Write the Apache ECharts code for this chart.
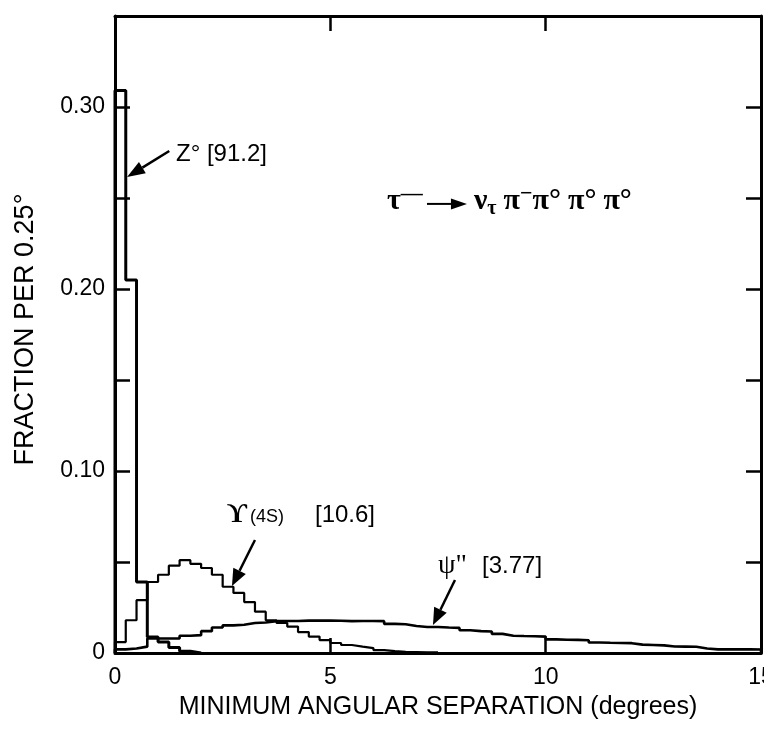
<!DOCTYPE html>
<html><head><meta charset="utf-8">
<script src="https://cdn.jsdelivr.net/npm/echarts@6/dist/echarts.min.js"></script>
<style>html,body{margin:0;padding:0;background:#fff}#c{width:764px;height:731px}</style>
</head><body><div id="c"></div>
<script>
// ---- data (fraction per 0.25 degree bin, bins start at 0) ----
const BIN_WIDTH = 0.25;
const xTickValues = [0, 5, 10, 15];
const yTickLabels = ['0', '0.10', '0.20', '0.30'];
const zValues = [0.309, 0.205, 0.039, 0.0088, 0.006, 0.003, 0.001, 0];
const upsilonValues = [
  0.006, 0.018, 0.029, 0.039, 0.043, 0.048, 0.051, 0.049, 0.0467, 0.043,
  0.0364, 0.033, 0.028, 0.0227, 0.018, 0.0165, 0.0145, 0.0115, 0.009, 0.0071,
  0.0055, 0.0044, 0.0035, 0.0027, 0.0016, 0.001, 0.0006, 0.0005, 0.0004, 0.0003
];
const psiValues = [
  0.002, 0.0025, 0.0035, 0.008, 0.008, 0.008, 0.0095, 0.0098, 0.012, 0.014,
  0.0152, 0.0155, 0.0165, 0.0168, 0.0175, 0.0176, 0.0176, 0.0178, 0.0178, 0.0178,
  0.0177, 0.0175, 0.0176, 0.0176, 0.0175, 0.016, 0.0158, 0.0148, 0.0143, 0.0143,
  0.014, 0.0138, 0.0125, 0.012, 0.0118, 0.0105, 0.0095, 0.0093, 0.0092, 0.009,
  0.0075, 0.0073, 0.0072, 0.007, 0.0058, 0.0056, 0.0055, 0.0054, 0.0046, 0.0044,
  0.0042, 0.0036, 0.0035, 0.0034, 0.0025, 0.002, 0.002, 0.002, 0.002, 0.0019
];

function toSteps(vals) {
  const pts = [[0, 0]];
  vals.forEach((v, i) => pts.push([i * BIN_WIDTH, v]));
  pts.push([vals.length * BIN_WIDTH, 0]);
  return pts;
}

const SANS = '"Liberation Sans", Arial, Helvetica, sans-serif';
const SERIF = '"Liberation Serif", "DejaVu Serif", "Times New Roman", serif';

const chart = echarts.init(document.getElementById('c'), null, {renderer: 'canvas'});

const tickStyle = {inside: true, length: 15, lineStyle: {color: '#000', width: 2.5}};
const lineAx = {show: true, onZero: false, lineStyle: {color: '#000', width: 3}};

function yLabel(v) {
  const r = Math.round(v * 100);
  if (Math.abs(v * 100 - r) > 1e-6) return '';
  if (r === 0) return yTickLabels[0];
  if (r % 10 === 0) return yTickLabels[r / 10] || '';
  return '';
}

const option = {
  animation: false,
  backgroundColor: '#fff',
  grid: {left: 115, right: 3, top: 16, bottom: 78, containLabel: false, outerBoundsMode: 'none'},
  xAxis: [{
    type: 'value', min: 0, max: 15, interval: 5, position: 'bottom',
    axisLine: lineAx, axisTick: tickStyle, splitLine: {show: false},
    axisLabel: {color: '#000', fontSize: 23, fontFamily: SANS, margin: 13, hideOverlap: false,
      formatter: v => xTickValues.indexOf(v) >= 0 ? String(v) : ''},
    name: 'MINIMUM ANGULAR SEPARATION (degrees)', nameLocation: 'middle', nameGap: 42,
    nameTextStyle: {color: '#000', fontSize: 25, fontFamily: SANS}
  }, {
    type: 'value', min: 0, max: 15, interval: 5, position: 'top',
    axisLine: lineAx, axisTick: tickStyle, splitLine: {show: false}, axisLabel: {show: false}
  }],
  yAxis: [{
    type: 'value', min: 0, max: 0.35, interval: 0.05, position: 'left',
    axisLine: lineAx, axisTick: tickStyle, splitLine: {show: false},
    axisLabel: {color: '#000', fontSize: 23, fontFamily: SANS, margin: 10, formatter: yLabel},
    name: 'FRACTION PER 0.25°', nameLocation: 'middle', nameGap: 76, nameRotate: 90,
    nameTextStyle: {color: '#000', fontSize: 27, fontFamily: SANS, padding: [0, 0, 0, 10]}
  }, {
    type: 'value', min: 0, max: 0.35, interval: 0.05, position: 'right',
    axisLine: lineAx, axisTick: tickStyle, splitLine: {show: false}, axisLabel: {show: false}
  }],
  series: [
    {name: 'Z', type: 'line', step: 'end', data: toSteps(zValues), symbol: 'none',
      lineStyle: {color: '#000', width: 3}, z: 3},
    {name: 'Upsilon', type: 'line', step: 'end', data: toSteps(upsilonValues), symbol: 'none',
      lineStyle: {color: '#000', width: 2.2}, z: 2},
    {name: 'Psi', type: 'line', step: 'end', data: toSteps(psiValues), symbol: 'none',
      lineStyle: {color: '#000', width: 2.6}, z: 2}
  ]
};
chart.setOption(option);

// ---- annotations anchored in data coordinates ----
function P(x, y) { return chart.convertToPixel({gridIndex: 0}, [x, y]); }
function arrow(tail, tip, headLen, headW, lw) {
  const dx = tip[0] - tail[0], dy = tip[1] - tail[1];
  const L = Math.hypot(dx, dy), ux = dx / L, uy = dy / L;
  const bx = tip[0] - ux * headLen, by = tip[1] - uy * headLen;
  const nx = -uy, ny = ux;
  return [
    {type: 'line', shape: {x1: tail[0], y1: tail[1], x2: bx, y2: by},
      style: {stroke: '#000', lineWidth: lw}, z: 10},
    {type: 'polygon', shape: {points: [tip, [bx + nx * headW / 2, by + ny * headW / 2], [bx - nx * headW / 2, by - ny * headW / 2]]},
      style: {fill: '#000'}, z: 10}
  ];
}
function txt(p, dx, dy, text, font, extra) {
  return Object.assign({type: 'text', x: p[0] + dx, y: p[1] + dy, z: 10,
    style: Object.assign({text: text, font: font, fill: '#000', textAlign: 'left', textVerticalAlign: 'middle'}, extra || {})});
}

const els = [];
// Z label
const zA = P(1.416, 0.2742);
els.push(txt(zA, 0, 0, 'Z° [91.2]', '24px ' + SANS));
els.push(...arrow(P(1.26, 0.2758), P(0.28, 0.2615), 18, 13, 2.5));
// Upsilon label
const uA = P(2.60, 0.0758);
els.push(txt(uA, 0, 0, 'ϒ', 'bold 28px ' + SERIF));
els.push(txt(uA, 23, 2, '(4S)', '18px ' + SANS));
els.push(txt(uA, 88, 0, '[10.6]', '24px ' + SANS));
els.push(...arrow(P(3.25, 0.0621), P(2.716, 0.0368), 17, 14, 2.5));
// psi label
const pA = P(7.50, 0.0478);
els.push(txt(pA, 0, 0, 'ψ"', '28px ' + SERIF));
els.push(txt(pA, 44, 0, '[3.77]', '24px ' + SANS));
els.push(...arrow(P(7.894, 0.0401), P(7.383, 0.0154), 17, 14, 2.5));
// decay equation
const eA = P(6.315, 0.2484);
const richEq = {
  m: {fontFamily: SERIF, fontSize: 30, fontWeight: 'bold', lineHeight: 36, fill: '#000'},
  s: {fontFamily: SERIF, fontSize: 22, fontWeight: 'bold', lineHeight: 16, verticalAlign: 'top', fill: '#000'},
  b: {fontFamily: SERIF, fontSize: 20, fontWeight: 'bold', lineHeight: 18, verticalAlign: 'bottom', fill: '#000'},
  g: {fontSize: 10, width: 7}
};
els.push({type: 'text', x: eA[0], y: eA[1], z: 10, style: {
  text: '{m|τ}{s|—}', textAlign: 'left', textVerticalAlign: 'middle', fill: '#000', rich: richEq}});
els.push(...arrow([eA[0] + 40, eA[1] + 3], [eA[0] + 80, eA[1] + 3], 16, 11, 2));
els.push({type: 'text', x: eA[0] + 87, y: eA[1], z: 10, style: {
  text: '{m|ν}{b|τ}{g| }{m|π}{s|−}{m|π°}{g| }{m|π°}{g| }{m|π°}', textAlign: 'left', textVerticalAlign: 'middle', fill: '#000', rich: richEq}});

chart.setOption({graphic: {elements: els}});
</script>
</body></html>
